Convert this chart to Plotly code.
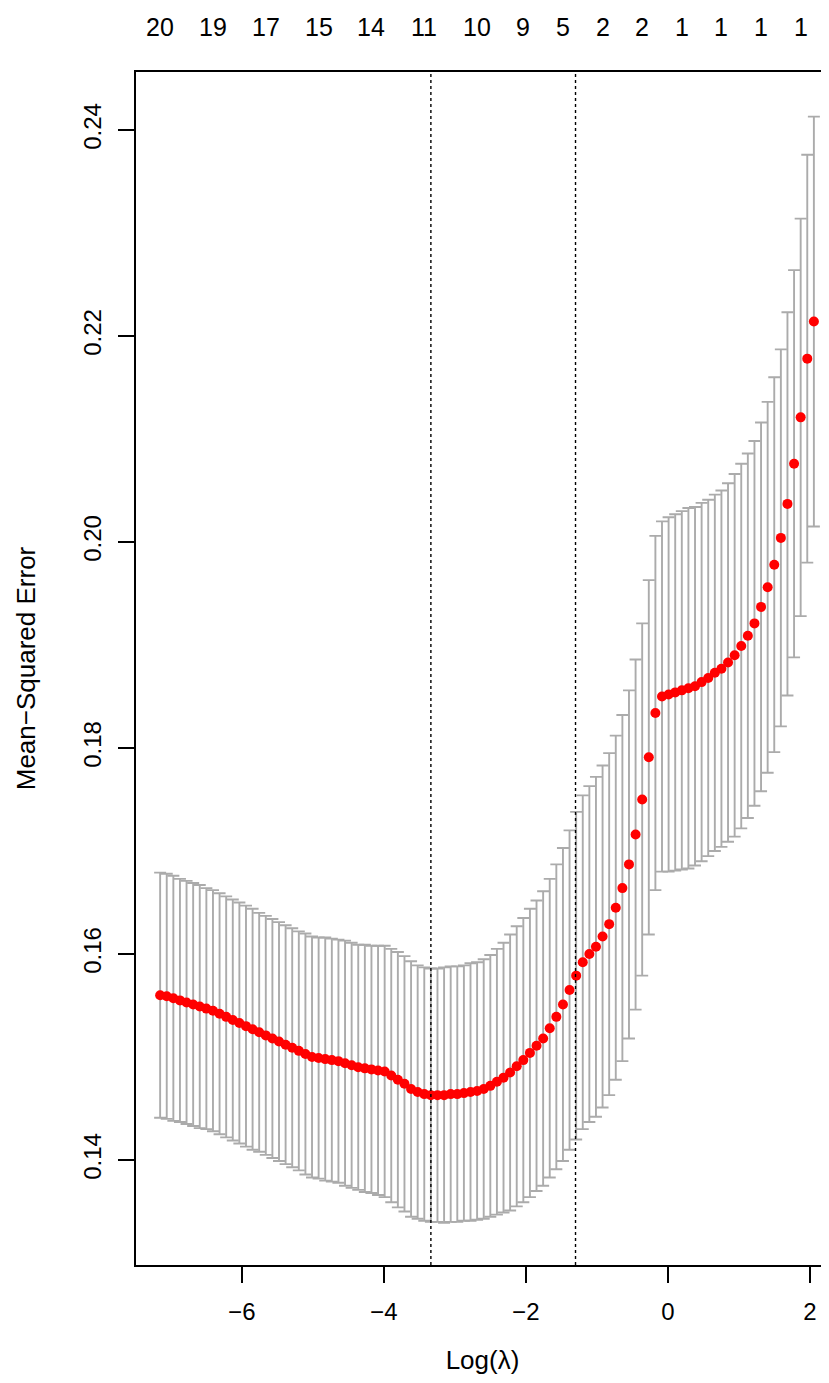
import plotly.graph_objects as go

# log(lambda) grid (glmnet path, 100 values)
log_lambda = [-7.150, -7.057, -6.964, -6.871, -6.778, -6.685, -6.592, -6.499, -6.406, -6.313,
              -6.220, -6.127, -6.034, -5.941, -5.848, -5.755, -5.662, -5.569, -5.476, -5.383,
              -5.290, -5.197, -5.104, -5.011, -4.918, -4.825, -4.732, -4.639, -4.546, -4.453,
              -4.360, -4.267, -4.174, -4.081, -3.988, -3.895, -3.802, -3.709, -3.616, -3.523,
              -3.430, -3.337, -3.244, -3.151, -3.058, -2.965, -2.872, -2.779, -2.686, -2.593,
              -2.500, -2.407, -2.314, -2.221, -2.128, -2.035, -1.942, -1.849, -1.756, -1.663,
              -1.570, -1.477, -1.384, -1.291, -1.198, -1.105, -1.012, -0.919, -0.826, -0.733,
              -0.640, -0.547, -0.454, -0.361, -0.268, -0.175, -0.082, 0.011, 0.104, 0.197,
              0.290, 0.383, 0.476, 0.569, 0.662, 0.755, 0.848, 0.941, 1.034, 1.127,
              1.220, 1.313, 1.406, 1.499, 1.592, 1.685, 1.778, 1.871, 1.964, 2.057]

# cross-validated mean-squared error
cvm = [0.1560, 0.1559, 0.1557, 0.1555, 0.1553, 0.1551, 0.1549, 0.1547, 0.1545, 0.1542,
       0.1539, 0.1536, 0.1533, 0.1530, 0.1527, 0.1524, 0.1521, 0.1518, 0.1515, 0.1512,
       0.1509, 0.1506, 0.1503, 0.1500, 0.1499, 0.1498, 0.1497, 0.1496, 0.1494, 0.1492,
       0.1490, 0.1489, 0.1488, 0.1487, 0.1486, 0.1482, 0.1478, 0.1474, 0.1469, 0.1466,
       0.1464, 0.1463, 0.1463, 0.1463, 0.1464, 0.1464, 0.1465, 0.1466, 0.1467, 0.1469,
       0.1472, 0.1476, 0.1480, 0.1485, 0.1491, 0.1497, 0.1504, 0.1511, 0.1518, 0.1528,
       0.1539, 0.1551, 0.1565, 0.1579, 0.1592, 0.1600, 0.1607, 0.1617, 0.1629, 0.1645,
       0.1664, 0.1687, 0.1716, 0.1750, 0.1791, 0.1834, 0.1850, 0.1852, 0.1854, 0.1856,
       0.1858, 0.1860, 0.1864, 0.1868, 0.1873, 0.1877, 0.1883, 0.1890, 0.1899, 0.1909,
       0.1921, 0.1937, 0.1956, 0.1978, 0.2004, 0.2037, 0.2076, 0.2121, 0.2178, 0.2214]

# standard error of the CV error
cvsd = [0.0119, 0.0119, 0.0119, 0.0118, 0.0118, 0.0118, 0.0118, 0.0117, 0.0117, 0.0117,
        0.0117, 0.0117, 0.0117, 0.0117, 0.0117, 0.0116, 0.0116, 0.0116, 0.0116, 0.0116,
        0.0116, 0.0116, 0.0117, 0.0117, 0.0117, 0.0118, 0.0118, 0.0118, 0.0119, 0.0119,
        0.0119, 0.0120, 0.0120, 0.0121, 0.0122, 0.0123, 0.0124, 0.0124, 0.0124, 0.0123,
        0.0123, 0.0123, 0.0123, 0.0124, 0.0124, 0.0124, 0.0124, 0.0125, 0.0125, 0.0126,
        0.0127, 0.0129, 0.0131, 0.0134, 0.0136, 0.0138, 0.0140, 0.0141, 0.0143, 0.0145,
        0.0148, 0.0152, 0.0155, 0.0159, 0.0162, 0.0163, 0.0165, 0.0166, 0.0166, 0.0167,
        0.0168, 0.0169, 0.0170, 0.0171, 0.0172, 0.0172, 0.0170, 0.0172, 0.0173, 0.0174,
        0.0175, 0.0174, 0.0174, 0.0173, 0.0173, 0.0173, 0.0174, 0.0176, 0.0177, 0.0177,
        0.0177, 0.0179, 0.0180, 0.0182, 0.0183, 0.0186, 0.0188, 0.0193, 0.0198, 0.0199]

# number of non-zero coefficients (top axis)
nz_pos = [-7.150, -6.406, -5.662, -4.918, -4.174, -3.430, -2.686, -2.035,
          -1.477, -0.919, -0.361, 0.197, 0.755, 1.313, 1.871]
nz_labels = ["20", "19", "17", "15", "14", "11", "10", "9", "5", "2", "2", "1", "1", "1", "1"]

lambda_min_log = -3.337
lambda_1se_log = -1.30

x_ticks = [-6, -4, -2, 0, 2]
x_ticktext = ["\u22126", "\u22124", "\u22122", "0", "2"]
y_ticks = [0.14, 0.16, 0.18, 0.20, 0.22, 0.24]
y_ticktext = ["0.14", "0.16", "0.18", "0.20", "0.22", "0.24"]

FONT = "Liberation Sans, Arial, Helvetica, sans-serif"

fig = go.Figure()
fig.add_trace(go.Scatter(
    x=log_lambda, y=cvm, mode="markers",
    marker=dict(color="#FF0000", size=10, line=dict(width=0)),
    error_y=dict(type="data", array=cvsd, visible=True,
                 color="#ABABAB", thickness=1.9, width=6),
    showlegend=False, hoverinfo="skip",
))

for v in [lambda_min_log, lambda_1se_log]:
    fig.add_shape(type="line", xref="x", yref="paper", x0=v, x1=v, y0=0, y1=1,
                  line=dict(color="black", width=1.4, dash="dot"), layer="above")

for p, t in zip(nz_pos, nz_labels):
    fig.add_annotation(x=p, xref="x", y=1.0377, yref="paper", text=t,
                       showarrow=False, xanchor="center", yanchor="middle",
                       font=dict(family=FONT, size=25, color="black"))

fig.update_layout(
    width=821, height=1375,
    margin=dict(l=128, r=0, t=64, b=118),
    paper_bgcolor="white", plot_bgcolor="white",
    font=dict(family=FONT, size=24, color="black"),
    xaxis=dict(range=[-7.49, 2.27], tickvals=x_ticks, ticktext=x_ticktext,
               showgrid=False, zeroline=False,
               showline=True, linecolor="black", linewidth=1.6, mirror=True,
               ticks="outside", ticklen=16, tickwidth=1.6, tickcolor="black",
               ticklabelstandoff=8,
               title=dict(text="Log(\u03bb)", font=dict(family=FONT, size=26), standoff=27)),
    yaxis=dict(range=[0.12981, 0.24563], tickvals=y_ticks, ticktext=y_ticktext,
               tickangle=-90,
               showgrid=False, zeroline=False,
               showline=True, linecolor="black", linewidth=1.6, mirror=False,
               ticks="outside", ticklen=16, tickwidth=1.6, tickcolor="black",
               ticklabelstandoff=8,
               title=dict(text="Mean\u2212Squared Error", font=dict(family=FONT, size=26), standoff=35)),
)

fig.write_html("out.html")
